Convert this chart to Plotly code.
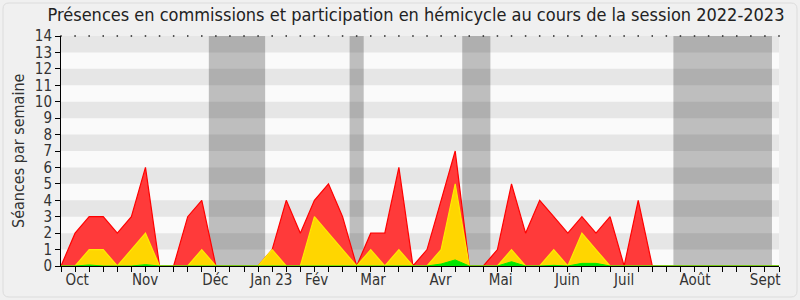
import plotly.graph_objects as go

weeks = list(range(52))
red = [0, 2, 3, 3, 2, 3, 6, 0, 0, 3, 4, 0, 0, 0, 0, 1, 4, 2, 4, 5, 3, 0, 2, 2, 6, 0,
       1, 4, 7, 0, 0, 1, 5, 2, 4, 3, 2, 3, 2, 3, 0, 4, 0, 0, 0, 0, 0, 0, 0, 0, 0, 0]
yellow = [0, 0, 1, 1, 0, 1, 2, 0, 0, 0, 1, 0, 0, 0, 0, 1, 0, 0, 3, 2, 1, 0, 1, 0, 1, 0,
          0, 1, 5, 0, 0, 0, 1, 0, 0, 1, 0, 2, 1, 0, 0, 0, 0, 0, 0, 0, 0, 0, 0, 0, 0, 0]
green = [0, 0, 0.06, 0, 0, 0, 0.08, 0, 0, 0, 0, 0, 0, 0, 0, 0, 0, 0, 0.04, 0, 0, 0, 0, 0, 0, 0,
         0, 0.12, 0.37, 0, 0, 0, 0.26, 0, 0, 0.04, 0, 0.16, 0.16, 0, 0, 0, 0, 0, 0, 0, 0, 0, 0, 0, 0, 0]
month_labels = ["Oct", "Nov", "Déc", "Jan 23", "Fév", "Mar", "Avr", "Mai", "Juin", "Juil", "Août", "Sept"]
month_pos = [1.15, 5.97, 10.96, 14.94, 18.16, 22.16, 26.96, 31.23, 35.97, 40.0, 45.03, 50.02]
vacations = [(10.5, 14.5), (20.5, 21.5), (28.5, 30.5), (43.5, 50.5)]

FONT = "DejaVu Sans Condensed, Liberation Sans Narrow, DejaVu Sans"
L, R, T, B, W, H = 61, 21, 36, 34, 800, 300
PW, PH = W - L - R, H - T - B


def px2paper(px, py):
    return (px - L) / PW, (H - B - py) / PH


def rounded_path(x0, y0, x1, y1, r):
    pts = []
    def P(x, y):
        a, b = px2paper(x, y)
        return f"{a:.5f},{b:.5f}"
    s = f"M {P(x0 + r, y0)} L {P(x1 - r, y0)} Q {P(x1, y0)} {P(x1, y0 + r)} "
    s += f"L {P(x1, y1 - r)} Q {P(x1, y1)} {P(x1 - r, y1)} "
    s += f"L {P(x0 + r, y1)} Q {P(x0, y1)} {P(x0, y1 - r)} "
    s += f"L {P(x0, y0 + r)} Q {P(x0, y0)} {P(x0 + r, y0)} Z"
    return s


fig = go.Figure()
fig.add_trace(go.Scatter(x=weeks, y=red, mode="lines", fill="tozeroy",
                         line=dict(color="rgb(255,0,0)", width=1.2),
                         fillcolor="rgb(255,58,58)", hoverinfo="skip"))
fig.add_trace(go.Scatter(x=weeks, y=yellow, mode="lines", fill="tozeroy",
                         line=dict(color="rgb(255,235,0)", width=1.2),
                         fillcolor="rgb(255,214,0)", hoverinfo="skip"))
fig.add_trace(go.Scatter(x=weeks, y=green, mode="lines", fill="tozeroy",
                         line=dict(color="rgb(0,235,0)", width=1),
                         fillcolor="rgb(0,230,0)", hoverinfo="skip"))
# dotted top line
fig.add_trace(go.Scatter(x=weeks, y=[14] * len(weeks), mode="markers",
                         marker=dict(symbol="square", size=1.5, color="#222", line=dict(width=0)),
                         hoverinfo="skip", cliponaxis=False))

shapes = [dict(type="path", xref="paper", yref="paper", path=rounded_path(3, 3, 797, 297, 6),
               line=dict(color="#DCDCDC", width=1), fillcolor="rgba(0,0,0,0)", layer="below")]
for a, b in vacations:
    shapes.append(dict(type="rect", xref="x", yref="paper", x0=a, x1=b, y0=0, y1=1,
                       fillcolor="#BEBEBE", line=dict(width=0), layer="below"))
for k in range(1, 14, 2):
    shapes.append(dict(type="rect", xref="paper", yref="y", x0=0, x1=1, y0=k, y1=k + 1,
                       fillcolor="rgba(0,0,0,0.08)", line=dict(width=0), layer="below"))

fig.update_layout(
    width=W, height=H,
    margin=dict(l=L, r=R, t=T, b=B),
    paper_bgcolor="#F0F0F0", plot_bgcolor="#FAFAFA",
    showlegend=False,
    shapes=shapes,
    title=dict(text="Présences en commissions et participation en hémicycle au cours de la session 2022-2023",
               x=0.52, xanchor="center", y=0.95, yanchor="middle", yref="container",
               font=dict(family=FONT, size=18, color="#222")),
    font=dict(family=FONT, size=15, color="#333"),
    xaxis=dict(range=[0, 51], tickvals=month_pos, ticktext=month_labels, ticks="",
               showgrid=False, zeroline=False, showline=True, linecolor="black", linewidth=1,
               tickfont=dict(family=FONT, size=15, color="#333"),
               minor=dict(ticks="outside", tick0=0, dtick=1, ticklen=5, tickcolor="black",
                          showgrid=False)),
    yaxis=dict(range=[0, 14], dtick=1, tick0=0, ticks="outside", ticklen=5, tickcolor="black",
               showgrid=False, zeroline=False, showline=True, linecolor="black", linewidth=1,
               tickfont=dict(family=FONT, size=15, color="#333")),
    annotations=[dict(text="Séances par semaine", xref="paper", yref="paper",
                      x=(18 - L) / PW, y=0.5, textangle=-90, showarrow=False,
                      xanchor="center", yanchor="middle",
                      font=dict(family=FONT, size=16, color="#333"))],
)

fig.write_html("out.html")
